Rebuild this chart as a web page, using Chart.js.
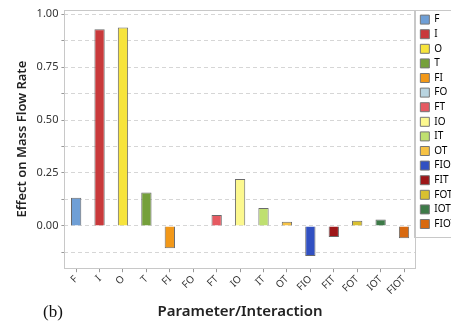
<!DOCTYPE html>
<html>
<head>
<meta charset="utf-8">
<script src="https://cdn.jsdelivr.net/npm/chart.js@4"></script>
<style>
  html, body { margin: 0; padding: 0; background: #fff; }
  #wrap { width: 451px; height: 324px; overflow: hidden; position: relative; }
</style>
</head>
<body>
<div id="wrap"><canvas id="effectChart" width="466" height="324"></canvas></div>
<script>
// categories and effect values
const labels = ['F', 'I', 'O', 'T', 'FI', 'FO', 'FT', 'IO', 'IT', 'OT', 'FIO', 'FIT', 'FOT', 'IOT', 'FIOT'];
const effects = [0.133, 0.929, 0.937, 0.158, -0.106, 0.003, 0.051, 0.222, 0.084, 0.019, -0.142, -0.052, 0.024, 0.030, -0.058];
const barColors = ['#6f9fd6', '#c9393b', '#f7e43c', '#75a03b', '#f29818', '#b9d4e0', '#e65a62', '#fcf88e', '#bfe070', '#f6c245', '#3150c2', '#9e1719', '#d9c030', '#3d7a48', '#d8690f'];
const yMin = -0.2;
const yMax = 1.02;

const fontFamily = "'Noto Sans', 'Open Sans', sans-serif";

// plot box, legend box and the "(b)" panel tag
const framePlugin = {
  id: 'frame',
  afterDraw(chart) {
    const { ctx, chartArea: a } = chart;
    ctx.save();
    ctx.strokeStyle = '#c8c8c8';
    ctx.lineWidth = 1;
    ctx.strokeRect(Math.round(a.left) + 0.5, Math.round(a.top) + 0.5, Math.round(a.right - a.left), Math.round(a.bottom - a.top));
    const lg = chart.legend;
    if (lg && lg.legendHitBoxes && lg.legendHitBoxes.length) {
      const last = lg.legendHitBoxes[lg.legendHitBoxes.length - 1];
      const bottom = last.top + last.height + 8;
      ctx.strokeRect(Math.round(lg.left) - 1.5, Math.round(a.top) + 0.5, 80, Math.round(bottom - a.top));
    }
    ctx.fillStyle = '#111';
    ctx.font = "17px 'Liberation Serif', 'DejaVu Serif', serif";
    ctx.textBaseline = 'alphabetic';
    ctx.fillText('(b)', 43, 317);
    ctx.restore();
  }
};

new Chart(document.getElementById('effectChart'), {
  type: 'bar',
  data: {
    labels: labels,
    datasets: [{
      data: effects,
      backgroundColor: barColors,
      borderColor: '#6a6a6a',
      borderWidth: 1,
      barPercentage: 0.44,
      categoryPercentage: 1
    }]
  },
  options: {
    responsive: false,
    animation: false,
    layout: { padding: { top: 10, left: 14, right: 0, bottom: 3 } },
    scales: {
      y: {
        min: yMin,
        max: yMax,
        ticks: {
          stepSize: 0.125,
          includeBounds: false,
          color: '#333',
          font: { family: fontFamily, size: 11 },
          padding: 3,
          callback: v => (Math.abs(v / 0.25 - Math.round(v / 0.25)) < 1e-6 ? v.toFixed(2) : '')
        },
        grid: { color: '#d6d6d6', tickLength: 3, tickColor: '#999', tickBorderDash: [] },
        border: { display: false, dash: [4, 3] },
        title: {
          display: true,
          text: 'Effect on Mass Flow Rate',
          color: '#222',
          font: { family: fontFamily, size: 13, weight: '600' },
          padding: { top: 0, bottom: 4 }
        }
      },
      x: {
        ticks: {
          color: '#333',
          font: { family: fontFamily, size: 10 },
          minRotation: 45,
          maxRotation: 45,
          padding: 1
        },
        grid: { drawOnChartArea: false, offset: false, tickLength: 4, tickColor: '#999' },
        border: { display: false },
        title: {
          display: true,
          text: 'Parameter/Interaction',
          color: '#222',
          font: { family: fontFamily, size: 15, weight: '600' },
          padding: { top: 5, bottom: 0 }
        }
      }
    },
    plugins: {
      legend: {
        position: 'right',
        align: 'start',
        labels: {
          boxWidth: 9,
          boxHeight: 9,
          padding: 4.6,
          color: '#222',
          font: { family: fontFamily, size: 10 },
          generateLabels: chart => chart.data.labels.map((l, i) => ({
            text: l,
            fillStyle: barColors[i],
            strokeStyle: '#777',
            lineWidth: 1,
            hidden: false,
            index: i
          }))
        }
      },
      tooltip: { enabled: false }
    }
  },
  plugins: [framePlugin]
});
</script>
</body>
</html>
